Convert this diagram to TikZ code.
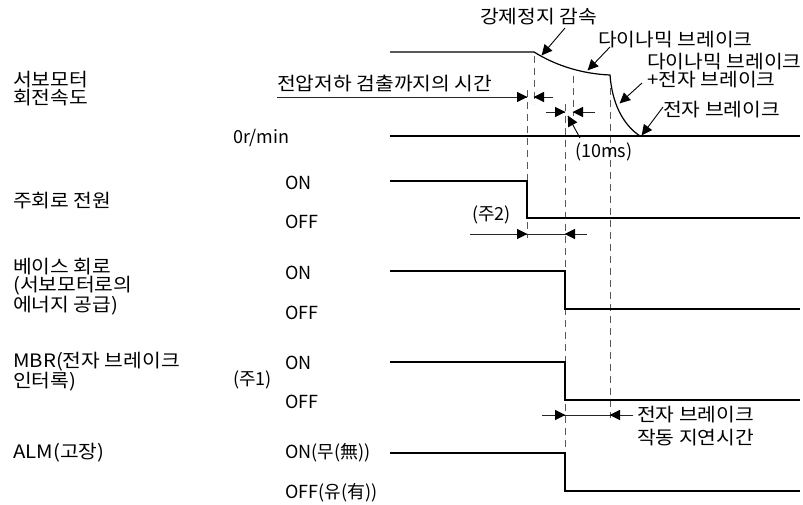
\documentclass[tikz,border=0pt]{standalone}
\usepackage{fontspec}
\setmainfont[FakeStretch=1.1]{Noto Sans CJK KR}
\newfontfamily\latfont{Noto Sans CJK KR}
\usetikzlibrary{decorations.markings}
\newcommand\kfont{\fontsize{18.5}{18}\selectfont\spaceskip 0.25em plus 0.1em\relax}
\newcommand\kfontb{\fontsize{18.5}{22.5}\selectfont\spaceskip 0.25em plus 0.1em\relax}
\newcommand\lfont{\latfont\fontsize{18}{18}\selectfont}
\begin{document}
\begin{tikzpicture}[x=1pt,y=-1pt,
  lbl/.style={inner sep=0pt,anchor=west,align=left,font=\kfont},
  llbl/.style={inner sep=0pt,anchor=west,align=left,font=\lfont},
  sig/.style={line width=1.2pt,black},
  dsh/.style={line width=0.9pt,gray!70!black,dash pattern=on 7pt off 5pt},
  headtip/.style={postaction={decorate},decoration={markings,
     mark=at position 1 with {\fill[black] (0.5pt,0pt) -- (-10pt,5.2pt) -- (-10pt,-5.2pt) -- cycle;}}},
  dimarr/.style={line width=0.9pt,black!85,headtip},
  dimplain/.style={line width=0.9pt,black!85},
  ptrarr/.style={line width=0.9pt,black,headtip}]
\useasboundingbox (0,0) rectangle (803,505);

% dashed guide lines
\draw[dsh] (534,56) -- (534,104);
\draw[dsh] (527,90) -- (527,238);
\draw[dsh] (573,76) -- (573,116);
\draw[dsh] (565,104) -- (565,453);
\draw[dsh] (610,76) -- (610,418);

% speed
\draw[sig] (390,52) -- (534,52) .. controls (558,67) and (585,74) .. (610,75)
  .. controls (612,102) and (622,124) .. (640,136);
\draw[sig] (390,136) -- (800,136);
% main circuit
\draw[sig] (390,181) -- (527,181) -- (527,218) -- (800,218);
% base circuit
\draw[sig] (390,271) -- (565,271) -- (565,309) -- (800,309);
% MBR
\draw[sig] (390,362) -- (565,362) -- (565,400) -- (800,400);
% ALM
\draw[sig] (390,453) -- (565,453) -- (565,491) -- (800,491);

% dimension arrows
\draw[dimarr] (277,97) -- (527,97);
\draw[dimarr] (553,97) -- (534,97);
\draw[dimarr] (546,112) -- (565,112);
\draw[dimarr] (595,112) -- (573,112);
\draw[dimarr] (470,234) -- (527,234);
\draw[dimplain] (527,234) -- (565,234);
\draw[dimarr] (587,234) -- (565,234);
\draw[dimarr] (542,415) -- (565,415);
\draw[dimplain] (565,415) -- (610,415);
\draw[dimarr] (633,415) -- (610,415);

% left labels
\node[lbl] (spd) at (13,89) {서보모터\\회전속도};
\node[lbl] (main) at (13,201) {주회로 전원};
\node[lbl] (base) at (13,287) {베이스 회로\\(서보모터로의\\에너지 공급)};
\node[lbl] (mbr) at (13,372) {MBR(전자 브레이크\\인터록)};
\node[lbl] (alm) at (13,453) {ALM(고장)};

% level labels
\node[llbl] (zero) at (233,138) {0r/min};
\node[llbl] (mon) at (285,183) {ON};
\node[llbl] (moff) at (285,222) {OFF};
\node[llbl] (bon) at (285,273) {ON};
\node[llbl] (boff) at (285,313) {OFF};
\node[llbl] (n1) at (233,380) {(주1)};
\node[llbl] (mbon) at (285,363) {ON};
\node[llbl] (mboff) at (285,402) {OFF};
\node[llbl] (aon) at (285,453) {ON(무(無))};
\node[llbl] (aoff) at (285,493) {OFF(유(有))};

% annotations
\node[lbl] (vdrop) at (277,84) {전압저하 검출까지의 시간};
\node[lbl] (estop) at (480,17) {강제정지 감속};
\node[lbl] (dyn) at (598,40) {다이나믹 브레이크};
\node[lbl] (dynem) at (647,71) {다이나믹 브레이크\\+전자 브레이크};
\node[lbl] (em) at (663,110) {전자 브레이크};
\node[llbl] (ten) at (575,152) {(10ms)};
\node[llbl] (n2) at (472,215) {(주2)};
\node[lbl,font=\kfontb] (delay) at (637,426) {전자 브레이크\\작동 지연시간};

% pointers
\coordinate (p1) at (542,55);
\coordinate (p2) at (588,70);
\coordinate (p3) at (620,103);
\coordinate (p4) at (642,135);
\coordinate (p5) at (568,116);
\draw[ptrarr] (565,28) -- (p1);
\draw[ptrarr] (610,47) -- (p2);
\draw[ptrarr] (642,83) -- (p3);
\draw[ptrarr] (663,107) -- (p4);
\draw[ptrarr] (580,138) -- (p5);
\end{tikzpicture}
\end{document}
